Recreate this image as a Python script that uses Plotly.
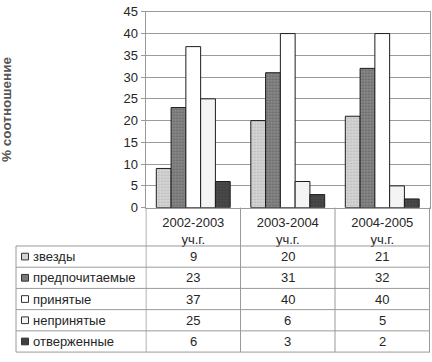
import plotly.graph_objects as go

# ---- data ----
years = ["2002-2003", "2003-2004", "2004-2005"]
year_suffix = "уч.г."
series_names = ["звезды", "предпочитаемые", "принятые", "непринятые", "отверженные"]
zvezdy = [9, 20, 21]
predpochitaemye = [23, 31, 32]
prinyatye = [37, 40, 40]
neprinyatye = [25, 6, 5]
otverzhennye = [6, 3, 2]
y_title = "% соотношение"
y_ticks = [0, 5, 10, 15, 20, 25, 30, 35, 40, 45]

series_values = [zvezdy, predpochitaemye, prinyatye, neprinyatye, otverzhennye]

# ---- styles ----
W, H = 432, 362
FONT = "Liberation Sans, Arial, sans-serif"
TXT = "#262626"
GRID = "#9a9a9a"
fills = ["#d4d4d4", "#7a7a7a", "#ffffff", "#f4f4f4", "#404040"]
patterns = [
    dict(shape=".", bgcolor="#d6d6d6", fgcolor="#9c9c9c", size=3, solidity=0.35),
    dict(shape=".", bgcolor="#8a8a8a", fgcolor="#3e3e3e", size=3, solidity=0.4),
    dict(shape=""),
    dict(shape=""),
    dict(shape=".", bgcolor="#4a4a4a", fgcolor="#2a2a2a", size=3, solidity=0.3),
]

# pixel geometry
plot_left, plot_right = 145.5, 430.0
plot_top, plot_bottom = 5.0, 209.3
header_bottom = 249.3
row_h = 22.14
table_left = 16.0

def px_x(p):
    return p / W

def px_y(p):
    return 1 - p / H

cats = [f"{y}<br>{year_suffix}" for y in years]

fig = go.Figure()
for name, vals, col, pat in zip(series_names, series_values, fills, patterns):
    fig.add_trace(go.Bar(
        x=cats, y=vals, name=name,
        marker=dict(color=col, line=dict(color="#1e1e1e", width=1), pattern=pat),
        showlegend=False, hoverinfo="skip",
    ))

shapes = []
annotations = []

# horizontal table lines
for i in range(6):
    yp = header_bottom + i * row_h
    shapes.append(dict(type="line", xref="paper", yref="paper",
                       x0=px_x(table_left), x1=px_x(plot_right),
                       y0=px_y(yp), y1=px_y(yp),
                       line=dict(color=GRID, width=1)))
# vertical dividers at category boundaries
for b in [-0.5, 0.5, 1.5, 2.5]:
    shapes.append(dict(type="line", xref="x", yref="paper",
                       x0=b, x1=b, y0=px_y(plot_bottom), y1=px_y(header_bottom + 5 * row_h),
                       line=dict(color=GRID, width=1)))
# table left border
shapes.append(dict(type="line", xref="paper", yref="paper",
                   x0=px_x(table_left), x1=px_x(table_left),
                   y0=px_y(header_bottom), y1=px_y(header_bottom + 5 * row_h),
                   line=dict(color=GRID, width=1)))

for r, (name, vals, col) in enumerate(zip(series_names, series_values, fills)):
    yc = header_bottom + (r + 0.5) * row_h
    # legend key
    shapes.append(dict(type="rect", xref="paper", yref="paper",
                       x0=px_x(21.5), x1=px_x(28.5),
                       y0=px_y(yc - 3.5), y1=px_y(yc + 3.5),
                       fillcolor=col, line=dict(color="#333333", width=1)))
    annotations.append(dict(xref="paper", yref="paper", x=px_x(30.5), y=px_y(yc),
                            text=name, showarrow=False, xanchor="left", yanchor="middle",
                            font=dict(family=FONT, size=13, color=TXT)))
    for c, v in enumerate(vals):
        annotations.append(dict(xref="x", yref="paper", x=cats[c], y=px_y(yc),
                                text=str(v), showarrow=False, xanchor="center", yanchor="middle",
                                font=dict(family=FONT, size=13, color=TXT)))

annotations.append(dict(xref="paper", yref="paper", x=px_x(6.5), y=px_y(107),
                        text=f"<b>{y_title}</b>", textangle=-90, showarrow=False,
                        xanchor="center", yanchor="middle",
                        font=dict(family=FONT, size=13.5, color="#555555")))

fig.update_layout(
    width=W, height=H,
    margin=dict(l=0, r=0, t=0, b=0),
    paper_bgcolor="white", plot_bgcolor="white",
    barmode="group", bargap=0.218, bargroupgap=0,
    shapes=shapes, annotations=annotations,
    font=dict(family=FONT, size=13, color=TXT),
    hovermode=False,
    xaxis=dict(domain=[px_x(plot_left), px_x(plot_right)],
               showline=True, linecolor=GRID, linewidth=1, mirror=True,
               ticks="", showgrid=False, ticklabelstandoff=3,
               tickfont=dict(family=FONT, size=13, color=TXT)),
    yaxis=dict(domain=[px_y(plot_bottom), px_y(plot_top)],
               range=[0, 45], tickvals=y_ticks,
               showline=True, linecolor=GRID, linewidth=1, mirror=True,
               showgrid=True, gridcolor=GRID, gridwidth=1,
               ticks="outside", ticklen=4, tickcolor=GRID,
               ticklabeloverflow="allow",
               tickfont=dict(family=FONT, size=13, color=TXT),
               zeroline=False),
)

fig.write_html("out.html",
               config={"displayModeBar": False, "staticPlot": True},
               post_script="document.body.style.margin='0';document.body.style.overflow='hidden';")
